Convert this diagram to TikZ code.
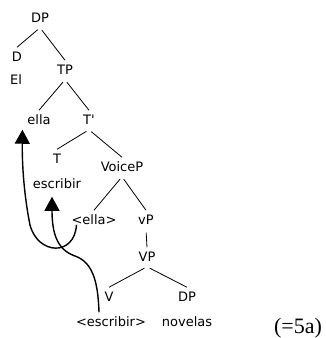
\documentclass[tikz,border=0pt]{standalone}
\usepackage{fontspec}
\setmainfont{DejaVu Sans}
\newfontfamily\exfont{Liberation Serif}
\usetikzlibrary{arrows.meta}
\begin{document}
\begin{tikzpicture}[x=1pt,y=-1pt,
    lab/.style={inner sep=0pt,outer sep=5pt,text height=9.5pt,text depth=0pt,font=\fontsize{13}{15}\selectfont},
    branch/.style={line width=0.8pt,shorten <=3pt},
    move/.style={line width=1.4pt,-{Triangle[width=15pt,length=14pt]}}]
    \useasboundingbox (0,0) rectangle (326,338);
    \node[lab] (dp) at (40,18) {DP};
    \node[lab] (d) at (17,57) {D};
    \node[lab] (el) at (16,80) {El};
    \node[lab] (tp) at (65,70) {TP};
    \node[lab] (ella) at (39,120) {ella};
    \node[lab] (tbar) at (89,120) {T\textquotesingle};
    \node[lab] (t) at (57,159) {T};
    \node[lab] (escr) at (57,184) {escribir};
    \node[lab] (voicep) at (122,167) {VoiceP};
    \node[lab] (ellatr) at (94,220) {<ella>};
    \node[lab] (smallvp) at (146,220) {vP};
    \node[lab] (bigvp) at (147,257) {VP};
    \node[lab] (v) at (109,297) {V};
    \node[lab] (dpobj) at (187,297) {DP};
    \node[lab] (escrtr) at (111,322) {<escribir>};
    \node[lab] (nov) at (187,322) {novelas};
    \node[anchor=base,inner sep=0pt] (ex) at (298,333) {\exfont\fontsize{22}{24}\selectfont (=5a)};
    \foreach \a/\b in {dp/d,dp/tp,tp/ella,tp/tbar,tbar/t,tbar/voicep,voicep/ellatr,voicep/smallvp,smallvp/bigvp,bigvp/v,bigvp/dpobj}
        {\draw[branch] (\a.south) -- (\b.north);
        }
    \draw[move] ([shift={(10,-5)}]ellatr.south west) .. controls +(-2,32) and +(8,30) .. (30,225)
        .. controls (25,200) and (22,170) .. (ella.south west);
    \draw[move] ([xshift=-12pt]escrtr.north) .. controls (98,280) and (92,262) .. (75,256)
        .. controls (58,250) and (52,235) .. ([shift={(-5,3)}]escr.south);
\end{tikzpicture}
\end{document}
